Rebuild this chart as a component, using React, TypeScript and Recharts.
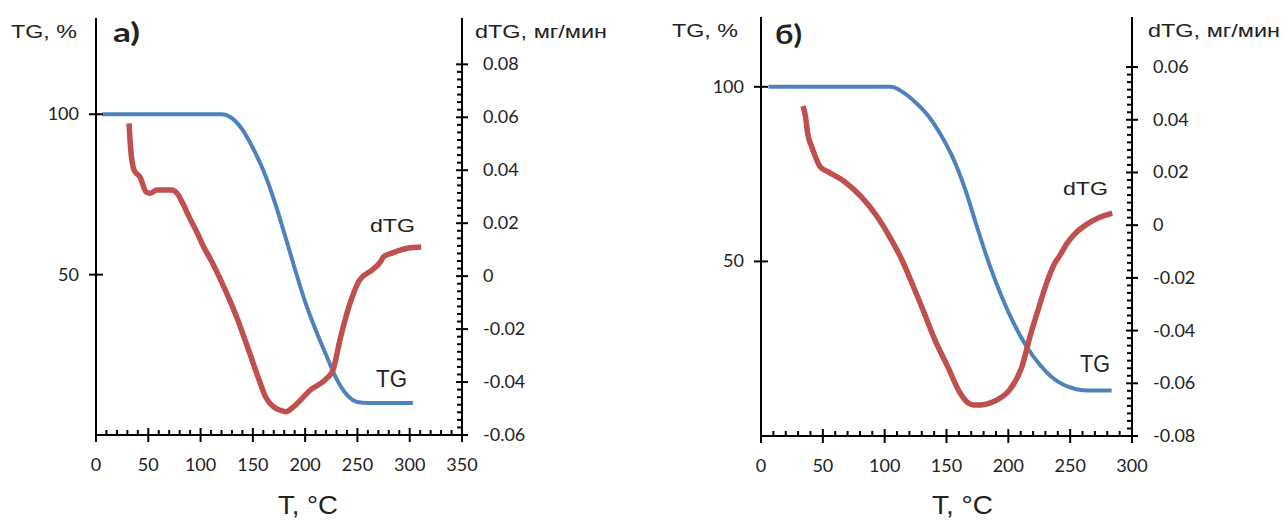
import React from 'react';
import { LineChart, Line, XAxis, YAxis } from 'recharts';

// ---- panel a) ----
const tgTempA = [6, 120, 130, 140, 150, 160, 170, 180, 190, 200, 210, 220, 230, 240, 250, 260, 303];
const tgValuesA = [100, 100, 98.8, 95.2, 89.5, 82.5, 73.5, 63, 52, 41.5, 32.8, 25, 17.5, 12.5, 10.3, 10, 10];

const dtgTempA = [31.6, 33, 36.5, 42, 48, 52, 58, 72, 77.5, 83, 89, 97, 103, 110, 120.6, 134.5, 146, 156, 162, 169.6, 175, 181.5, 189, 205, 221, 226.6, 234, 244, 252, 264, 272, 275, 283, 299, 311];
const dtgValuesA = [0.0577, 0.0488, 0.04, 0.0375, 0.0318, 0.0313, 0.0325, 0.0325, 0.0313, 0.0275, 0.0224, 0.0162, 0.011, 0.006, -0.0026, -0.0154, -0.028, -0.0392, -0.0455, -0.0493, -0.0505, -0.0512, -0.0493, -0.043, -0.0385, -0.0355, -0.0229, -0.009, -0.0015, 0.0023, 0.0054, 0.0073, 0.0087, 0.0106, 0.011];

// ---- panel б) ----
const tgTempB = [6, 105, 115, 125, 135, 145, 155, 165, 175, 185, 195, 205, 215, 225, 235, 245, 255, 265, 283.5];
const tgValuesB = [100, 100, 98.4, 95.5, 91.8, 86.5, 79.8, 70.8, 59.5, 48.8, 39.6, 31.8, 25.5, 20.6, 16.9, 14.6, 13.4, 13, 13];

const dtgTempB = [34, 36, 37.7, 41, 44, 47.7, 54, 67.6, 81, 94, 104, 114, 121, 131, 140.7, 151, 161, 167.6, 172, 177.6, 185, 191, 201, 211, 217.5, 224, 231, 237.7, 241, 247.6, 254, 264, 274, 284];
const dtgValuesB = [0.0452, 0.0412, 0.035, 0.0298, 0.026, 0.0222, 0.0203, 0.0165, 0.0108, 0.0032, -0.0044, -0.0132, -0.0208, -0.0322, -0.0436, -0.0537, -0.0637, -0.0675, -0.0682, -0.0682, -0.0675, -0.0663, -0.0625, -0.0537, -0.0423, -0.0322, -0.0219, -0.0143, -0.012, -0.0068, -0.0032, 0.0005, 0.003, 0.0046];

// tick labels
const tempTicksA = [0, 50, 100, 150, 200, 250, 300, 350];
const tempTicksB = [0, 50, 100, 150, 200, 250, 300];
const tgTicks = [50, 100];
const dtgTicksA = [-0.06, -0.04, -0.02, 0, 0.02, 0.04, 0.06, 0.08];
const dtgTicksB = [-0.08, -0.06, -0.04, -0.02, 0, 0.02, 0.04, 0.06];

const BLUE = '#4F81BD';
const RED = '#C0504D';
const INK = '#222';
const TICK_FONT = 'Lato, "Open Sans", sans-serif';
const TITLE_FONT = '"Liberation Sans", Arial, sans-serif';

const toPoints = (ts: number[], vs: number[]) => ts.map((t, i) => ({ t, v: vs[i] }));

// major ticks plus evenly split minor ticks between them
const withMinor = (majors: number[], parts: number) => {
  const out: number[] = [];
  for (let i = 0; i < majors.length - 1; i++) {
    const step = (majors[i + 1] - majors[i]) / parts;
    for (let k = 0; k < parts; k++) out.push(majors[i] + k * step);
  }
  out.push(majors[majors.length - 1]);
  return out;
};

const isMajor = (v: number, majors: number[]) => majors.some(m => Math.abs(m - v) < 1e-9);

const XTick = ({ x, y, payload, majors }: any) => {
  const major = isMajor(payload.value, majors);
  return (
    <g>
      {major
        ? <line x1={x} x2={x} y1={y - 7} y2={y + 7} stroke="#000" strokeWidth={2} />
        : <line x1={x} x2={x} y1={y - 5} y2={y} stroke="#000" strokeWidth={2} />}
      {major && (
        <text x={x} y={y + 36} textAnchor="middle" fontSize={18} fontFamily={TICK_FONT} fill={INK}>
          {payload.value}
        </text>
      )}
    </g>
  );
};

const LeftTick = ({ x, y, payload }: any) => (
  <g>
    <line x1={x - 7} x2={x + 7} y1={y} y2={y} stroke="#000" strokeWidth={2} />
    <text x={x - 17} y={y + 6} textAnchor="end" fontSize={18} fontFamily={TICK_FONT} fill={INK}>
      {payload.value}
    </text>
  </g>
);

const RightTick = ({ x, y, payload, majors }: any) => {
  const major = isMajor(payload.value, majors);
  const v = payload.value;
  const label = Math.abs(v) < 1e-9 ? '0' : String(majors.find((m: number) => Math.abs(m - v) < 1e-9));
  return (
    <g>
      {major
        ? <line x1={x - 6} x2={x + 6} y1={y} y2={y} stroke="#000" strokeWidth={2} />
        : <line x1={x - 5} x2={x} y1={y} y2={y} stroke="#000" strokeWidth={2} />}
      {major && (
        <text x={x + 21} y={y + 6} textAnchor="start" fontSize={18} fontFamily={TICK_FONT} fill={INK}>
          {label}
        </text>
      )}
    </g>
  );
};

interface PanelProps {
  width: number;
  height: number;
  top: number;
  leftW: number;
  rightW: number;
  xH: number;
  tempTicks: number[];
  tgMax: number;
  dtgDomain: [number, number];
  dtgTicks: number[];
  tg: { t: number; v: number }[];
  dtg: { t: number; v: number }[];
}

const Panel: React.FC<PanelProps> = p => {
  const xMax = p.tempTicks[p.tempTicks.length - 1];
  return (
    <LineChart width={p.width} height={p.height} margin={{ top: p.top, right: 0, bottom: 0, left: 0 }}>
      <XAxis
        dataKey="t"
        type="number"
        domain={[0, xMax]}
        allowDataOverflow
        ticks={withMinor(p.tempTicks, 5)}
        interval={0}
        height={p.xH}
        tickSize={0}
        tickMargin={0}
        tickLine={false}
        axisLine={{ stroke: '#000', strokeWidth: 2 }}
        tick={<XTick majors={p.tempTicks} />}
      />
      <YAxis
        yAxisId="tg"
        orientation="left"
        type="number"
        domain={[0, p.tgMax]}
        allowDataOverflow
        ticks={tgTicks}
        interval={0}
        width={p.leftW}
        tickSize={0}
        tickMargin={0}
        tickLine={false}
        axisLine={{ stroke: '#000', strokeWidth: 2 }}
        tick={<LeftTick />}
      />
      <YAxis
        yAxisId="dtg"
        orientation="right"
        type="number"
        domain={p.dtgDomain}
        allowDataOverflow
        ticks={withMinor(p.dtgTicks, 7)}
        interval={0}
        width={p.rightW}
        tickSize={0}
        tickMargin={0}
        tickLine={false}
        axisLine={{ stroke: '#000', strokeWidth: 2 }}
        tick={<RightTick majors={p.dtgTicks} />}
      />
      <Line yAxisId="tg" data={p.tg} dataKey="v" type="monotone" stroke={BLUE} strokeWidth={4} dot={false} isAnimationActive={false} />
      <Line yAxisId="dtg" data={p.dtg} dataKey="v" type="monotone" stroke={RED} strokeWidth={5.5} dot={false} isAnimationActive={false} />
    </LineChart>
  );
};

const Txt = ({ x, y, size, w, children, bold, font }: any) => (
  <text
    x={x}
    y={y}
    fontSize={size}
    fontFamily={font || TITLE_FONT}
    fontWeight={bold ? 700 : 400}
    fill={INK}
    textLength={w}
    lengthAdjust="spacingAndGlyphs"
  >
    {children}
  </text>
);

export default function App() {
  return (
    <div style={{ position: 'absolute', left: 0, top: 0, width: 1282, height: 521, background: '#fff' }}>
      <div style={{ position: 'absolute', left: 0, top: 0 }}>
        <Panel
          width={640}
          height={521}
          top={18}
          leftW={96}
          rightW={178}
          xH={86}
          tempTicks={tempTicksA}
          tgMax={130}
          dtgDomain={[-0.06, 0.0975]}
          dtgTicks={dtgTicksA}
          tg={toPoints(tgTempA, tgValuesA)}
          dtg={toPoints(dtgTempA, dtgValuesA)}
        />
      </div>
      <div style={{ position: 'absolute', left: 640, top: 0 }}>
        <Panel
          width={642}
          height={521}
          top={17}
          leftW={121}
          rightW={150}
          xH={85}
          tempTicks={tempTicksB}
          tgMax={120}
          dtgDomain={[-0.08, 0.079]}
          dtgTicks={dtgTicksB}
          tg={toPoints(tgTempB, tgValuesB)}
          dtg={toPoints(dtgTempB, dtgValuesB)}
        />
      </div>
      <svg width={1282} height={521} style={{ position: 'absolute', left: 0, top: 0, pointerEvents: 'none' }}>
        <Txt x={11} y={38} size={18} w={66}>TG, %</Txt>
        <Txt x={113} y={42} size={26} w={27} bold font={TICK_FONT}>а)</Txt>
        <Txt x={475} y={38} size={18} w={132}>dTG, мг/мин</Txt>
        <Txt x={370} y={232} size={19} w={45}>dTG</Txt>
        <Txt x={376} y={387} size={23} w={31}>TG</Txt>
        <Txt x={278} y={514} size={25} w={60}>T, °C</Txt>

        <Txt x={672} y={37} size={18} w={66}>TG, %</Txt>
        <Txt x={775} y={44} size={26} w={27} bold font={TICK_FONT}>б)</Txt>
        <Txt x={1148} y={37} size={18} w={132}>dTG, мг/мин</Txt>
        <Txt x={1063} y={195} size={19} w={45}>dTG</Txt>
        <Txt x={1080} y={372} size={23} w={30}>TG</Txt>
        <Txt x={932} y={514} size={25} w={61}>T, °C</Txt>
      </svg>
    </div>
  );
}
